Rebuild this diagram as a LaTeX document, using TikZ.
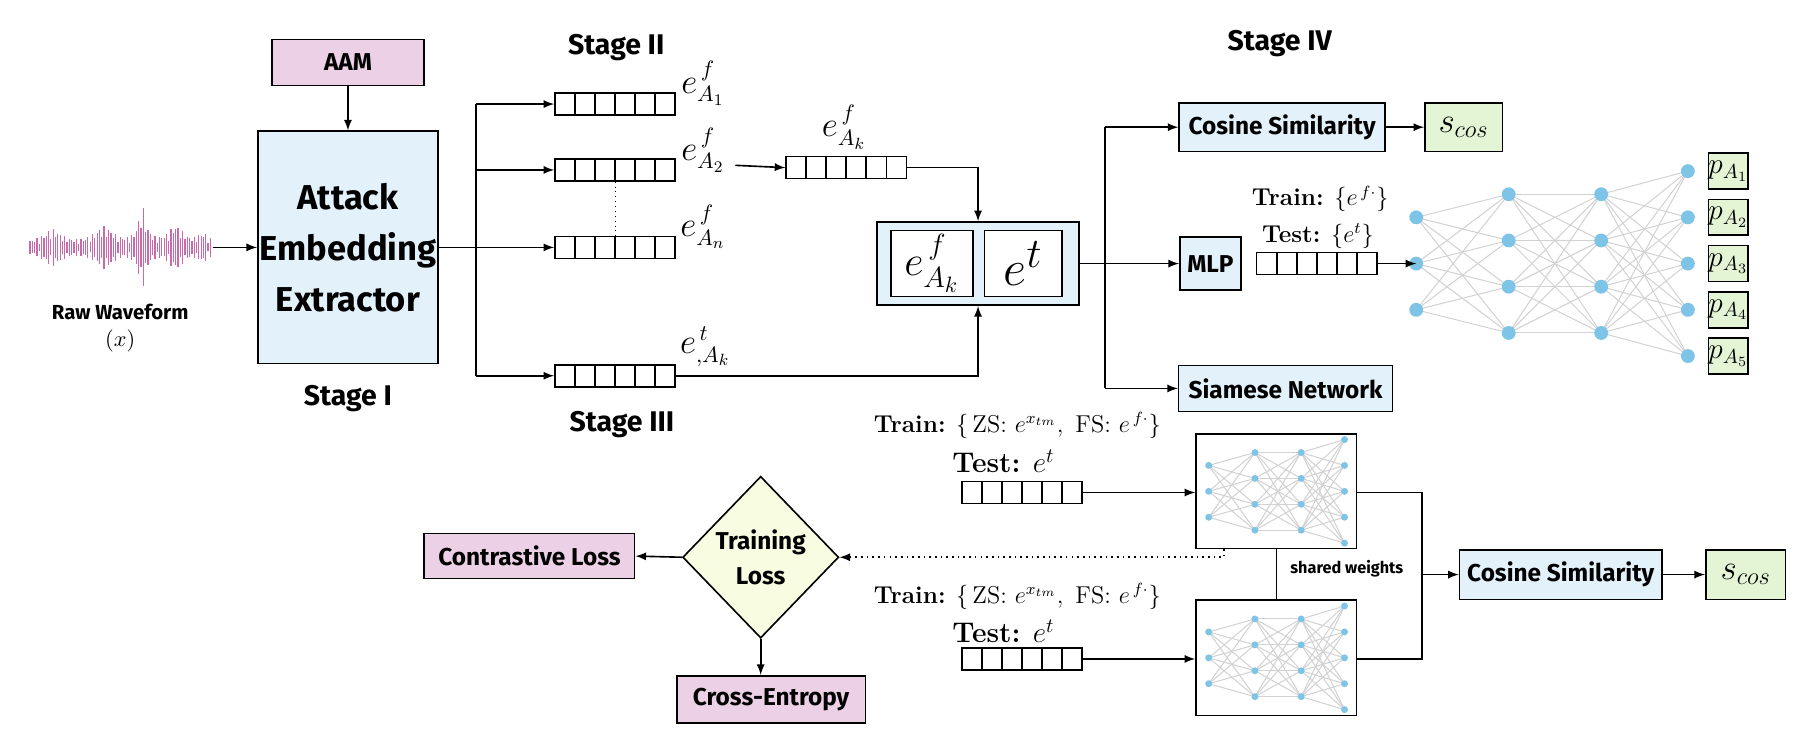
\documentclass[tikz,border=0pt]{standalone}
\usepackage{amsmath}
\usepackage{fontspec}
\setsansfont{Fira Sans}
\usetikzlibrary{calc, shapes.geometric, positioning}

\definecolor{pinkbox}{HTML}{EBD0E6}
\definecolor{bluebox}{HTML}{E3F1FB}
\definecolor{greenbox}{HTML}{E3F5D5}
\definecolor{lossbox}{HTML}{F8FCE1}
\definecolor{neuronc}{HTML}{7EC4E6}
\definecolor{wavec}{HTML}{C8509A}

\tikzset{
  box/.style={draw, thick, inner sep=0pt, font=\sffamily\bfseries\fontsize{12}{13}\selectfont},
  vec/.style={draw, thick, minimum width=2.08cm, minimum height=0.38cm, inner sep=0pt,
    path picture={\foreach \i in {1,...,5}
      \draw ($(path picture bounding box.north west)!\i/6!(path picture bounding box.north east)$)
         -- ($(path picture bounding box.south west)!\i/6!(path picture bounding box.south east)$);}},
  stage/.style={font=\sffamily\bfseries\fontsize{14}{16}\selectfont},
  elabel/.style={font=\fontsize{16}{18}\selectfont},
  trainlbl/.style={font=\fontsize{12}{14}\selectfont},
  neuron/.style={circle, fill=neuronc, minimum size=#1, inner sep=0pt},
  neuron/.default=0.24cm,
  synapse/.style={draw=gray!35, line width=0.5pt},
  arr/.style={-latex, thick},
}

% neurons of a small dense net, layers of 3,4,4,5 nodes
\newcommand\annlayers[2]{%
  \foreach \l/\n/\x in {1/3/-117,2/4/-37,3/4/43,4/5/118}
    \foreach \j in {1,...,\n}
      \coordinate (#1-\l-\j) at (\x,{(\j-(\n+1)/2)*40});
  \foreach \l/\n/\m in {1/3/4,2/4/4,3/4/5} {
    \pgfmathtruncatemacro\k{\l+1}
    \foreach \a in {1,...,\n} \foreach \b in {1,...,\m}
      \draw[synapse] (#1-\l-\a) -- (#1-\k-\b);}
  \foreach \l/\n in {1/3,2/4,3/4,4/5}
    \foreach \j in {1,...,\n}
      \node[neuron=#2] at (#1-\l-\j) {};
}

\begin{document}
\begin{tikzpicture}[x=0.02cm, y=-0.02cm]
\useasboundingbox (0,0) rectangle (1557,637);

% Stage I
\foreach \x in {26,28,...,182} {
  \pgfmathsetmacro\amp{3+12/(1+((\x-45)/10)^2)+14/(1+((\x-90)/10)^2)+30/(1+((\x-123)/4)^2)+15/(1+((\x-152)/8)^2)+8/(1+((\x-176)/6)^2)}
  \pgfmathsetmacro\osc{0.35+0.65*abs(sin(\x*37))}
  \draw[wavec!85!violet!80, line width=0.6pt] (\x,{214-\amp*\osc}) -- (\x,{214+\amp*\osc});
}
\coordinate (wave) at (184,214);
\node[font=\sffamily\bfseries\fontsize{10}{11}\selectfont] (raw) at (104,270) {Raw Waveform};
\node[font=\fontsize{11}{12}\selectfont] (xin) at (104,295) {$(x)$};

\node[box, fill=pinkbox, minimum width=2.64cm, minimum height=0.8cm] (aam) at (301,54) {AAM};
\node[box, fill=bluebox, minimum width=3.12cm, minimum height=4.02cm, align=center,
      font=\sffamily\bfseries\fontsize{17}{25}\selectfont] (aee) at (301,214) {Attack\\Embedding\\Extractor};
\node[stage] (s1) at (301,345) {Stage I};
\draw[arr] (aam) -- (aee);
\draw[arr] (wave) -- (aee.west |- wave);

% Stage II / III
\node[stage] (s2) at (533,41) {Stage II};
\node[stage] (s3) at (538,367) {Stage III};
\node[vec] (v1) at (532,90) {};
\node[vec] (v2) at (532,147) {};
\node[vec] (vn) at (532,214) {};
\node[vec] (vt) at (532,325) {};
\coordinate (br) at (412,214);
\draw[thick] (aee.east |- br) -- (br);
\draw[thick] (412,90) -- (412,325);
\foreach \v in {v1,v2,vn,vt} \draw[arr] (br |- \v) -- (\v.west);
\draw[dotted] (v2.south) -- (vn.north);
\node[elabel] (l1) at (608,72) {$e^{\,f}_{A_1}$};
\node[elabel] (l2) at (608,130) {$e^{\,f}_{A_2}$};
\node[elabel] (ln) at (608,196) {$e^{\,f}_{A_n}$};
\node[elabel] (lt) at (610,300) {$e^{\,t}_{,A_k}$};

\node[vec] (vk) at (732,145) {};
\node[elabel] (lk) at (730,110) {$e^{\,f}_{A_k}$};
\draw[arr] (636,143) -- (vk.west);

\node[box, fill=bluebox, minimum width=3.5cm, minimum height=1.44cm] (cat) at (846,228) {};
\node[draw, thick, fill=white, minimum width=1.42cm, minimum height=1.14cm, inner sep=0pt, font=\fontsize{22}{24}\selectfont] (cf) at (806,228) {$e^{\,f}_{A_k}$};
\node[draw, thick, fill=white, minimum width=1.34cm, minimum height=1.14cm, inner sep=0pt, font=\fontsize{32}{34}\selectfont] (ct) at (885,228) {$e^{t}$};
\draw[arr] (vk.east) -| (cat.north);
\draw[arr] (vt.east) -| (cat.south);

% Stage IV
\node[stage] (s4) at (1107,38) {Stage IV};
\node[box, fill=bluebox, minimum width=3.56cm, minimum height=0.84cm] (cos1) at (1109,110) {Cosine Similarity};
\node[box, fill=greenbox, minimum width=1.34cm, minimum height=0.84cm, font=\fontsize{18}{20}\selectfont] (sc1) at (1266,110) {$s_{cos}$};
\node[box, fill=bluebox, minimum width=1.06cm, minimum height=0.92cm] (mlp) at (1047,228) {MLP};
\node[box, fill=bluebox, minimum width=3.7cm, minimum height=0.8cm] (siam) at (1112,336) {Siamese Network};
\coordinate (b4) at (956,228);
\draw[thick] (cat.east) -- (b4);
\draw[thick] (956,110) -- (956,336);
\foreach \t in {cos1,mlp,siam} \draw[arr] (b4 |- \t) -- (\t.west);
\draw[arr] (cos1) -- (sc1);

\node[vec] (vm) at (1139,228) {};
\node[trainlbl] (tr1) at (1142,172) {\textbf{Train:} $\{e^{\,f\cdot}\}$};
\node[trainlbl] (te1) at (1140,204) {\textbf{Test:} $\{e^{t}\}$};
\begin{scope}[shift={(1342,228)}]
  \annlayers{mn}{0.24cm}
\end{scope}
\draw[arr] (vm.east) -- (mn-1-2);
\foreach \i in {1,...,5}
  \node[box, fill=greenbox, minimum width=0.56cm, minimum height=0.62cm, font=\fontsize{14}{15}\selectfont]
    (p\i) at (1495,{148+40*(\i-1)}) {$p_{A_{\i}}$};

% Siamese branch
\node[box, fill=white, minimum width=2.78cm, minimum height=1.98cm] (sn1) at (1104,425) {};
\node[box, fill=white, minimum width=2.78cm, minimum height=2.0cm] (sn2) at (1104,569) {};
\begin{scope}[shift={(1104,425)}, xscale=0.5, yscale=0.56]
  \annlayers{na}{0.12cm}
\end{scope}
\begin{scope}[shift={(1104,569)}, xscale=0.5, yscale=0.56]
  \annlayers{nb}{0.12cm}
\end{scope}
\node[vec] (va) at (884,426) {};
\node[vec] (vb) at (884,570) {};
\node[trainlbl] (tr2) at (880,368) {\textbf{Train:} $\{\,\text{ZS: } e^{x_{tm}},\ \text{FS: } e^{\,f\cdot}\}$};
\node[trainlbl, font=\fontsize{14}{16}\selectfont] (te2) at (868,399) {\textbf{Test:} $e^{t}$};
\node[trainlbl] (tr3) at (880,516) {\textbf{Train:} $\{\,\text{ZS: } e^{x_{tm}},\ \text{FS: } e^{\,f\cdot}\}$};
\node[trainlbl, font=\fontsize{14}{16}\selectfont] (te3) at (868,546) {\textbf{Test:} $e^{t}$};
\draw[arr] (va.east) -- (sn1.west |- va);
\draw[arr] (vb.east) -- (sn2.west |- vb);
\draw[thick] (sn1.south) -- (sn2.north);
\node[font=\sffamily\bfseries\fontsize{8}{9}\selectfont] (sw) at (1165,492) {shared weights};

\node[box, fill=bluebox, minimum width=3.5cm, minimum height=0.86cm] (cos2) at (1350,497) {Cosine Similarity};
\node[box, fill=greenbox, minimum width=1.38cm, minimum height=0.86cm, font=\fontsize{18}{20}\selectfont] (sc2) at (1510,497) {$s_{cos}$};
\coordinate (jn) at (1230,497);
\draw[thick] (sn1.east |- va) -| (jn) |- (sn2.east |- vb);
\draw[arr] (jn) -- (cos2.west);
\draw[arr] (cos2) -- (sc2);

% losses
\node[draw, thick, diamond, fill=lossbox, minimum width=2.7cm, minimum height=2.8cm, inner sep=0pt, align=center,
      font=\sffamily\bfseries\fontsize{12}{17}\selectfont] (loss) at (658,482) {Training\\Loss};
\node[box, fill=pinkbox, minimum width=3.64cm, minimum height=0.78cm] (cl) at (458,481) {Contrastive Loss};
\node[box, fill=pinkbox, minimum width=3.26cm, minimum height=0.82cm] (ce) at (667,605) {Cross-Entropy};
\draw[thick, dotted, -latex] (1059,475) |- (loss.east);
\draw[arr] (loss.west) -- (cl.east);
\draw[arr] (loss.south) -- (loss.south |- ce.north);
\end{tikzpicture}
\end{document}
